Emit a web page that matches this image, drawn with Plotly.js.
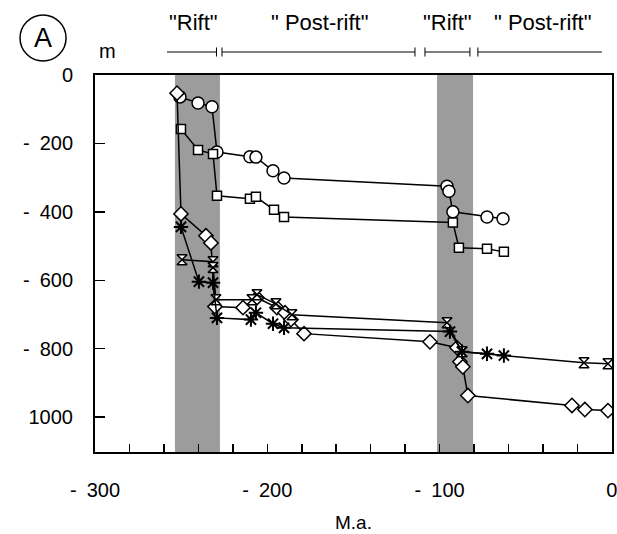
<!DOCTYPE html>
<html>
<head>
<meta charset="utf-8">
<script src="https://cdn.plot.ly/plotly-3.0.1.min.js"></script>
<style>body{margin:0;padding:0;background:#fff}#chart{width:617px;height:534px}</style>
</head>
<body>
<div id="chart"></div>
<script>
// Ages (Ma, negative = past) and depths (m)
const circleAge = [-250.7, -240.2, -232.1, -229.2, -210.1, -206.6, -196.7, -190.3, -95.7, -94.6, -92.3, -72.5, -63.2];
const circleDepth = [-64, -82, -93, -225, -239, -240, -280, -301, -325, -340, -400, -415, -420];

const squareAge = [-250.1, -240.2, -231.5, -229.2, -210.1, -206.6, -196.1, -190.3, -92.3, -88.8, -72.5, -62.7];
const squareDepth = [-158, -219, -231, -353, -362, -356, -394, -415, -431, -505, -508, -517];

const diamondAge = [-252.4, -250.1, -235.6, -232.7, -230.4, -214.1, -206.0, -194.4, -189.7, -186.3, -178.7, -105.6, -89.9, -88.2, -86.5, -83.6, -23.2, -15.7, -2.3];
const diamondDepth = [-53, -406, -470, -491, -677, -680, -651, -680, -695, -715, -756, -780, -797, -838, -853, -937, -966, -978, -981];

const starAge = [-250.1, -239.7, -231.5, -229.2, -209.5, -206.6, -196.7, -190.3, -94.0, -87.0, -72.5, -62.7];
const starDepth = [-444, -604, -607, -710, -715, -695, -727, -739, -750, -809, -815, -820];

const hourAge = [-249.5, -231.5, -231.5, -229.8, -208.9, -206.0, -195.0, -185.7, -95.7, -87.0, -16.2, -2.3];
const hourDepth = [-540, -546, -563, -657, -657, -642, -669, -701, -724, -809, -841, -844];

const riftBands = [[-253.6, -227.5], [-101.5, -80.6]];
const xTickVals = [-300, -200, -100, 0];
const xTickText = ['-\u2002300', '-\u2002200', '-\u2002100', '0'];
const yTickVals = [0, -200, -400, -600, -800, -1000];
const yTickText = ['0', '-\u2002200', '-\u2002400', '-\u2002600', '-\u2002800', '1000'];
const phaseLabels = ['"Rift"', '" Post-rift"', '"Rift"', '" Post-rift"'];
const phaseCenters = [-243.1, -169.4, -95.2, -40.0];
const phaseBars = [[-258.2, -229.5], [-226.3, -114.3], [-108.5, -82.4], [-77.8, -5.8]];

const lineStyle = {color: 'black', width: 1.5};
function series(x, y, symbol, size) {
  return {
    x: x, y: y, type: 'scatter', mode: 'lines+markers',
    line: lineStyle,
    marker: {symbol: symbol, size: size, color: 'white', line: {color: 'black', width: 1.5}},
    showlegend: false, hoverinfo: 'x+y'
  };
}
const data = [
  series(circleAge, circleDepth, 'circle', 12),
  series(squareAge, squareDepth, 'square', 9),
  series(diamondAge, diamondDepth, 'diamond', 11),
  series(hourAge, hourDepth, 'hourglass', 10),
  {x: starAge, y: starDepth, type: 'scatter', mode: 'lines+markers', line: lineStyle,
   marker: {symbol: 'asterisk-open', size: 12, color: 'black', line: {color: 'black', width: 2}},
   showlegend: false}
];

const shapes = [];
riftBands.forEach(b => shapes.push({type: 'rect', xref: 'x', yref: 'paper', x0: b[0], x1: b[1], y0: 0, y1: 1,
  fillcolor: '#9c9c9c', line: {width: 0}, layer: 'below'}));
const barY = 1.061, tickH = 0.012;
phaseBars.forEach((b, i) => {
  shapes.push({type: 'line', xref: 'x', yref: 'paper', x0: b[0], x1: b[1], y0: barY, y1: barY, line: {color: 'black', width: 1}});
  if (i > 0) shapes.push({type: 'line', xref: 'x', yref: 'paper', x0: b[0], x1: b[0], y0: barY - tickH, y1: barY + tickH, line: {color: 'black', width: 1}});
  if (i < 3) shapes.push({type: 'line', xref: 'x', yref: 'paper', x0: b[1], x1: b[1], y0: barY - tickH, y1: barY + tickH, line: {color: 'black', width: 1}});
});
shapes.push({type: 'circle', xref: 'paper', yref: 'paper', x0: -0.145, x1: -0.056, y0: 1.037, y1: 1.159,
  line: {color: 'black', width: 1.5}});

const font = {family: 'Liberation Sans, Arial, sans-serif', color: 'black'};
const annotations = phaseLabels.map((t, i) => ({
  text: t, x: phaseCenters[i], xref: 'x', y: 1.14, yref: 'paper', xanchor: 'center', yanchor: 'middle', showarrow: false,
  font: Object.assign({size: 22}, font)
}));
annotations.push({text: 'A', x: -0.1006, xref: 'paper', y: 1.098, yref: 'paper', xanchor: 'center', yanchor: 'middle', showarrow: false, font: Object.assign({size: 27}, font)});
annotations.push({text: 'm', x: 0.025, xref: 'paper', y: 1.064, yref: 'paper', xanchor: 'center', yanchor: 'middle', showarrow: false, font: Object.assign({size: 20}, font)});

const layout = {
  width: 617, height: 534,
  margin: {l: 95, r: 5, t: 75, b: 82},
  paper_bgcolor: 'white', plot_bgcolor: 'white',
  font: Object.assign({size: 20}, font),
  xaxis: {
    range: [-300, 0.05], showgrid: false, zeroline: false,
    showline: true, mirror: true, linecolor: 'black', linewidth: 2,
    tickvals: xTickVals, ticktext: xTickText, ticks: 'inside', ticklen: 8, tickwidth: 1.5, tickcolor: 'black',
    minor: {dtick: 20, tick0: 0, ticks: 'inside', ticklen: 8, tickwidth: 1.5, tickcolor: 'black', showgrid: false},
    ticklabelstandoff: 19, ticklabeloverflow: 'allow',
    tickfont: Object.assign({size: 20}, font),
    title: {text: 'M.a.', font: Object.assign({size: 19}, font), standoff: 16}
  },
  yaxis: {
    range: [-1102, 0], showgrid: false, zeroline: false,
    showline: true, mirror: true, linecolor: 'black', linewidth: 2,
    tickvals: yTickVals, ticktext: yTickText, ticks: 'inside', ticklen: 10, tickwidth: 1.5, tickcolor: 'black',
    ticklabelstandoff: 16,
    tickfont: Object.assign({size: 20}, font)
  },
  shapes: shapes,
  annotations: annotations
};
Plotly.newPlot('chart', data, layout, {displayModeBar: false, staticPlot: true});
</script>
</body>
</html>
